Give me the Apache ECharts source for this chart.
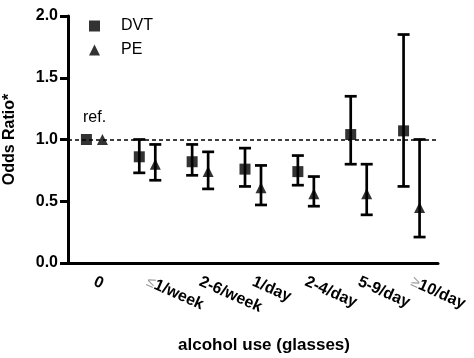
<!DOCTYPE html>
<html><head><meta charset="utf-8">
<script src="https://cdn.jsdelivr.net/npm/echarts@6/dist/echarts.min.js"></script>
<style>html,body{margin:0;padding:0;background:#fff}#c{width:474px;height:358px}</style>
</head><body><div id="c"></div>
<script>
const categories = ['0','≤1/week','2-6/week','1/day','2-4/day','5-9/day','≥10/day'];
const dvtOR   = [1.00,0.86,0.82,0.76,0.74,1.04,1.07];
const dvtLow  = [null,0.73,0.71,0.62,0.63,0.80,0.62];
const dvtHigh = [null,1.00,0.96,0.93,0.87,1.35,1.85];
const peOR    = [1.00,0.80,0.74,0.61,0.56,0.56,0.45];
const peLow   = [null,0.67,0.60,0.47,0.46,0.39,0.21];
const peHigh  = [null,0.96,0.90,0.79,0.70,0.80,1.00];
const yMin = 0, yMax = 2, yStep = 0.5;
const refValue = 1.0;

const FONT = '"Liberation Sans", Arial, sans-serif';
const chart = echarts.init(document.getElementById('c'));

function errSeries(name, lows, highs, offset){
  const data = [];
  lows.forEach((l,i)=>{ if(l!=null) data.push([i,l,highs[i]]); });
  return {
    type:'custom', name, data, z:2, silent:true,
    encode:{x:0, y:[1,2]},
    renderItem(params, api){
      const lo = api.coord([api.value(0), api.value(1)]);
      const hi = api.coord([api.value(0), api.value(2)]);
      const x = lo[0] + offset, cw = 6;
      const style = {stroke:'#000', lineWidth:2.7};
      return {type:'group', children:[
        {type:'line', shape:{x1:x,y1:lo[1],x2:x,y2:hi[1]}, style},
        {type:'line', shape:{x1:x-cw,y1:lo[1],x2:x+cw,y2:lo[1]}, style},
        {type:'line', shape:{x1:x-cw,y1:hi[1],x2:x+cw,y2:hi[1]}, style}
      ]};
    }
  };
}

chart.setOption({
  animation:false,
  backgroundColor:'#fff',
  grid:{left:68, right:36, top:16, bottom:95, containLabel:false, outerBoundsMode:'none'},
  legend:{
    orient:'vertical', left:84, top:13, itemWidth:11, itemHeight:11, itemGap:8,
    data:[{name:'DVT', icon:'rect'},{name:'PE', icon:'triangle'}],
    textStyle:{fontSize:16, fontFamily:FONT, color:'#000', padding:[0,0,0,16]}
  },
  xAxis:{
    type:'category', data:categories, boundaryGap:true,
    name:'alcohol use (glasses)', nameLocation:'middle', nameGap:74,
    nameTextStyle:{fontSize:17, fontWeight:'bold', fontFamily:FONT, color:'#000', padding:[0,0,0,22]},
    axisLine:{lineStyle:{color:'#000', width:3}},
    axisTick:{alignWithLabel:true, length:8, lineStyle:{color:'#000', width:3}},
    axisLabel:{
      rotate:-24, margin:18, fontSize:16, fontWeight:'bold', fontFamily:FONT, color:'#000',
      formatter:v => (v[0]==='≤'||v[0]==='≥') ? '{s|'+v[0]+'}'+v.slice(1) : v,
      rich:{s:{color:'#999', fontWeight:'normal', fontSize:15, fontFamily:FONT}}
    },
    splitLine:{show:false}
  },
  yAxis:{
    type:'value', min:yMin, max:yMax, interval:yStep,
    name:'Odds Ratio*', nameLocation:'middle', nameGap:50,
    nameTextStyle:{fontSize:16, fontWeight:'bold', fontFamily:FONT, color:'#000'},
    axisLine:{show:true, lineStyle:{color:'#000', width:3}},
    axisTick:{show:true, length:8, lineStyle:{color:'#000', width:3}},
    axisLabel:{fontSize:16, fontWeight:'bold', fontFamily:FONT, color:'#000', margin:10,
      formatter:v=>v.toFixed(1)},
    splitLine:{show:false}
  },
  series:[
    errSeries('DVT CI', dvtLow, dvtHigh, -8),
    errSeries('PE CI', peLow, peHigh, 8),
    {type:'scatter', name:'DVT', data:dvtOR, symbol:'rect', symbolSize:11, symbolOffset:[-8,0],
     itemStyle:{color:'#000'}, z:5,
     markLine:{silent:true, symbol:'none', data:[{yAxis:refValue}], label:{show:false},
       lineStyle:{type:[4,3], color:'#000', width:1.5}}},
    {type:'scatter', name:'PE', data:peOR, symbol:'triangle', symbolSize:11, symbolOffset:[8,0],
     itemStyle:{color:'#000'}, z:5}
  ],
  graphic:[{type:'text', left:83, top:110, style:{text:'ref.', fontSize:16, fontFamily:FONT, fill:'#000'}}]
});
</script></body></html>
